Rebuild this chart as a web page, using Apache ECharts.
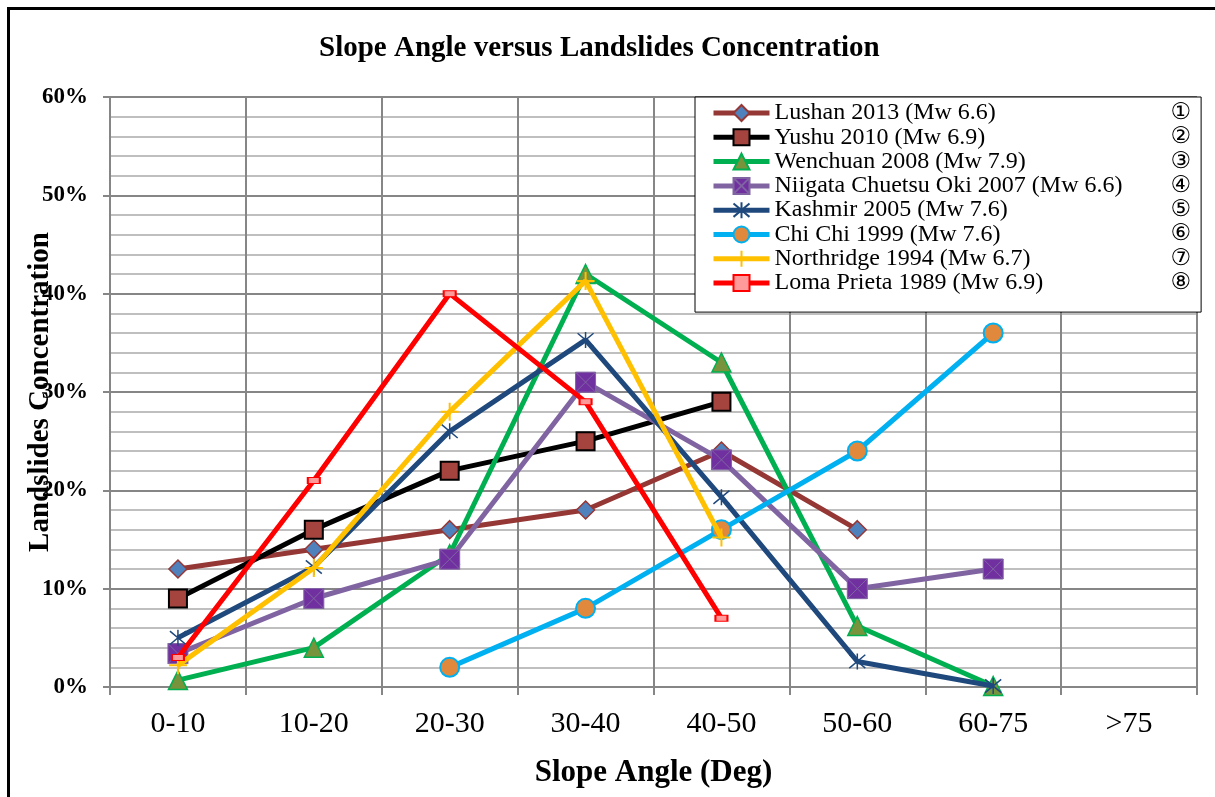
<!DOCTYPE html>
<html>
<head>
<meta charset="utf-8">
<script src="https://cdn.jsdelivr.net/npm/echarts@6/dist/echarts.min.js"></script>
<style>
html,body{margin:0;padding:0;background:#fff;}
#chart{width:1215px;height:797px;}
</style>
</head>
<body>
<div id="chart"></div>
<script>
var categories = ['0-10','10-20','20-30','30-40','40-50','50-60','60-75','>75'];
var yTicks = [0, 0.1, 0.2, 0.3, 0.4, 0.5, 0.6];

var seriesNames = [
  'Lushan 2013 (Mw 6.6)',
  'Yushu 2010 (Mw 6.9)',
  'Wenchuan 2008 (Mw 7.9)',
  'Niigata Chuetsu Oki 2007 (Mw 6.6)',
  'Kashmir 2005 (Mw 7.6)',
  'Chi Chi 1999 (Mw 7.6)',
  'Northridge 1994 (Mw 6.7)',
  'Loma Prieta 1989 (Mw 6.9)'
];
var circled = ['①','②','③','④','⑤','⑥','⑦','⑧'];

var lushan     = [0.12, 0.14, 0.16, 0.18, 0.24, 0.16, null, null];
var yushu      = [0.09, 0.16, 0.22, 0.25, 0.29, null, null, null];
var wenchuan   = [0.007, 0.04, 0.135, 0.42, 0.33, 0.062, 0.001, null];
var niigata    = [0.034, 0.09, 0.13, 0.31, 0.231, 0.10, 0.12, null];
var kashmir    = [0.05, 0.122, 0.26, 0.353, 0.193, 0.026, 0.001, null];
var chichi     = [null, null, 0.02, 0.08, 0.16, 0.24, 0.36, null];
var northridge = [0.022, 0.121, 0.28, 0.413, 0.152, null, null, null];
var lomaPrieta = [0.03, 0.21, 0.40, 0.29, 0.07, null, null, null];

var seriesData = [lushan, yushu, wenchuan, niigata, kashmir, chichi, northridge, lomaPrieta];

var styles = [
  {line:'#953735', symbol:'diamond', size:18, fill:'#4F81BD', border:'#953735', bw:1.5},
  {line:'#000000', symbol:'rect', size:18, fill:'#A5443F', border:'#000000', bw:2},
  {line:'#00B050', symbol:'triangle', size:19, fill:'#77933C', border:'#00B050', bw:1.5},
  {line:'#8064A2', symbol:'path://M0,0L10,0L10,10L0,10ZM0,0L10,10M10,0L0,10', size:20, fill:'#7030A0', border:'#8064A2', bw:1},
  {line:'#1F497D', symbol:'path://M0,0L10,10M10,0L0,10M5,-1L5,11', size:16, fill:'#1F497D', border:'#1F497D', bw:1.5},
  {line:'#00B0F0', symbol:'circle', size:19, fill:'#E0883C', border:'#00B0F0', bw:2},
  {line:'#FFC000', symbol:'path://M5,0L5,10M0,5L10,5', size:18, fill:'#FFC000', border:'#FFC000', bw:2},
  {line:'#FF0000', symbol:'rect', size:[12,6], fill:'#FF9A9A', border:'#FF0000', bw:1.5}
];

var FONT = '"Liberation Serif", "Times New Roman", serif';

var series = seriesData.map(function(d, i){
  var s = styles[i];
  return {
    name: seriesNames[i],
    type: 'line',
    data: d,
    connectNulls: false,
    symbol: s.symbol,
    symbolSize: s.size,
    showSymbol: true,
    lineStyle: {color: s.line, width: 5},
    itemStyle: {color: s.fill, borderColor: s.border, borderWidth: s.bw},
    emphasis: {disabled: true},
    z: 2 + i
  };
});

var chart = echarts.init(document.getElementById('chart'), null, {renderer:'canvas'});
chart.setOption({
  animation: false,
  backgroundColor: '#ffffff',
  title: {
    text: 'Slope Angle versus Landslides Concentration',
    left: 314,
    top: 29,
    textStyle: {fontFamily: FONT, fontSize: 29, fontWeight: 'bold', color: '#000'}
  },
  grid: {left: 110, right: 18, top: 97, bottom: 110, containLabel: false, outerBoundsMode: 'none'},
  legend: {
    show: true,
    orient: 'vertical',
    left: 695,
    top: 97,
    width: 504,
    padding: [4, 10, 17, 16],
    itemWidth: 56,
    itemHeight: 20,
    itemGap: 0.3,
    backgroundColor: '#fff',
    borderColor: '#000',
    borderWidth: 1,
    lineStyle: {width: 5},
    data: seriesNames,
    formatter: function(name){
      var i = seriesNames.indexOf(name);
      return '{n|' + name + '}{c|' + circled[i] + '}';
    },
    textStyle: {
      fontFamily: FONT, fontSize: 24, color: '#000', lineHeight: 20,
      rich: {
        n: {fontFamily: FONT, fontSize: 24, width: 396, lineHeight: 20},
        c: {fontFamily: '"DejaVu Sans", sans-serif', fontSize: 23, lineHeight: 20}
      }
    }
  },
  xAxis: {
    type: 'category',
    data: categories,
    boundaryGap: true,
    name: 'Slope Angle (Deg)',
    nameLocation: 'middle',
    nameGap: 70,
    nameMoveOverlap: false,
    nameTextStyle: {fontFamily: FONT, fontSize: 31, fontWeight: 'bold', color: '#000'},
    axisLine: {show: true, lineStyle: {color: '#868686', width: 2}},
    axisTick: {show: true, length: 8, alignWithLabel: false, lineStyle: {color: '#868686', width: 2}},
    axisLabel: {fontFamily: FONT, fontSize: 30, color: '#000', margin: 22},
    splitLine: {show: true, lineStyle: {color: '#868686', width: 2}}
  },
  yAxis: {
    type: 'value',
    min: 0,
    max: 0.6,
    interval: 0.1,
    name: 'Landslides Concentration',
    nameLocation: 'middle',
    nameGap: 55,
    nameMoveOverlap: false,
    nameRotate: 90,
    nameTextStyle: {fontFamily: FONT, fontSize: 29, fontWeight: 'bold', color: '#000'},
    axisLine: {show: true, lineStyle: {color: '#868686', width: 2}},
    axisTick: {show: true, length: 7, lineStyle: {color: '#868686', width: 2}},
    axisLabel: {
      fontFamily: FONT, fontSize: 23, fontWeight: 'bold', color: '#000', margin: 22,
      formatter: function(v){ return Math.round(v*100) + '%'; }
    },
    splitLine: {show: true, lineStyle: {color: '#868686', width: 2}},
    minorTick: {show: false, splitNumber: 5},
    minorSplitLine: {show: true, lineStyle: {color: '#BFBFBF', width: 2}}
  },
  graphic: [{
    type: 'rect',
    shape: {x: 8.5, y: 8.5, width: 1400, height: 1000},
    style: {fill: null, stroke: '#000', lineWidth: 3},
    silent: true,
    z: 100
  }],
  series: series
});
</script>
</body>
</html>
